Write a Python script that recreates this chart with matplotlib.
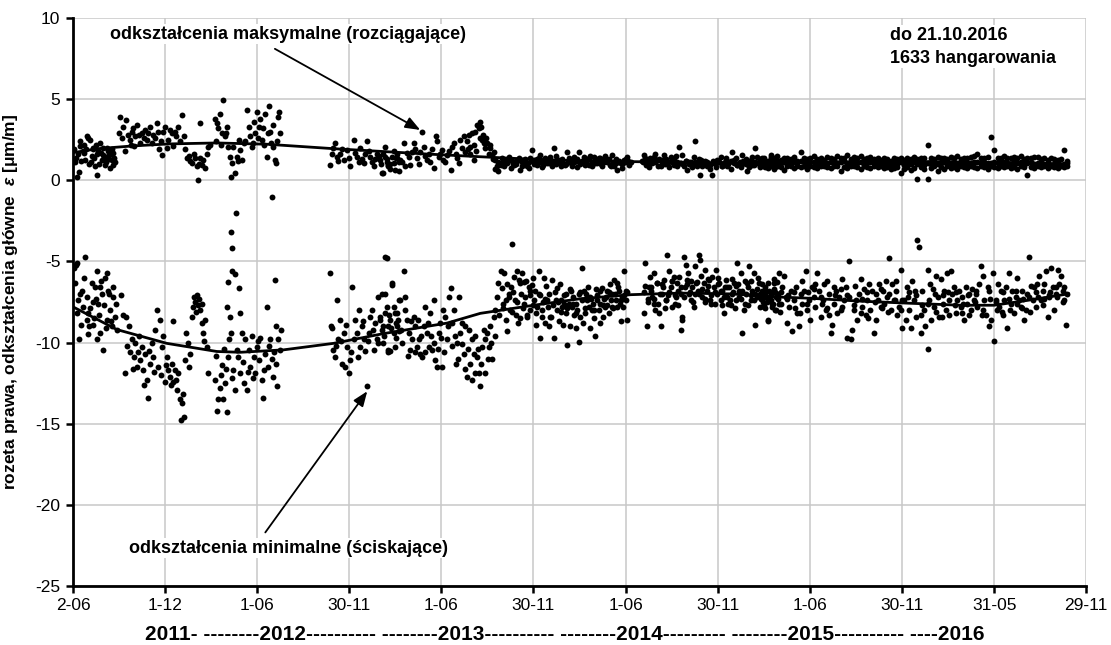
import numpy as np
import matplotlib
matplotlib.use('Agg')
import matplotlib.pyplot as plt

plt.rcParams['font.family'] = ['Liberation Sans', 'DejaVu Sans']
plt.rcParams['mathtext.fontset'] = 'custom'
plt.rcParams['mathtext.it'] = 'Liberation Sans:italic:bold'
plt.rcParams['mathtext.rm'] = 'Liberation Sans:bold'

# x axis = days counted from 2 June 2011
start_date = '2011-06-02'
tick_dates = ['2011-06-02', '2011-12-01', '2012-06-01', '2012-11-30', '2013-06-01', '2013-11-30',
              '2014-06-01', '2014-11-30', '2015-06-01', '2015-11-30', '2016-05-31', '2016-11-29']
tick_labels = ['2-06', '1-12', '1-06', '30-11', '1-06', '30-11',
               '1-06', '30-11', '1-06', '30-11', '31-05', '29-11']
y_ticks = [-25, -20, -15, -10, -5, 0, 5, 10]

# (day, strain) - maximal strain (tension)
max_2011_summer = [(2, 1.9), (4, 1.1), (6, 1.4), (7, 0.2), (9, 1.6), (11, 0.5), (13, 2.4), (14, 2.1), (16, 1.2),
                   (19, 1.8), (21, 1.7), (22, 2.2), (24, 1.25), (26, 1.9), (28, 2.7), (30, 2.6), (32, 1.0), (34, 2.5),
                   (36, 1.1), (37, 1.5), (39, 1.9), (40, 2.0), (42, 1.4), (44, 0.85), (46, 2.2), (47, 0.3), (48, 1.6),
                   (50, 1.8), (52, 1.0), (53, 2.3), (55, 1.7), (57, 1.25), (59, 2.0), (60, 1.55), (62, 1.4), (63, 0.95),
                   (65, 1.3), (66, 1.1), (67, 2.0), (69, 1.8), (70, 1.5), (72, 1.3), (73, 0.75), (75, 1.6), (77, 1.25),
                   (78, 1.9), (79, 1.7), (80, 0.95), (82, 1.4), (83, 1.15)]
max_2011_autumn = [(92, 2.9), (94, 3.9), (97, 2.6), (100, 3.3), (103, 1.8), (106, 3.7), (109, 2.8), (112, 2.5),
                   (114, 2.2), (116, 3.0), (118, 3.2), (120, 2.1), (123, 2.7), (126, 3.4), (130, 2.8), (133, 2.3),
                   (136, 2.9), (140, 2.6), (143, 3.1), (146, 2.5), (149, 2.9), (153, 3.3), (156, 2.3), (159, 2.8),
                   (163, 2.6), (166, 3.5), (169, 3.0), (171, 1.9), (174, 2.4), (176, 1.55), (179, 3.0), (182, 3.3),
                   (186, 2.0), (189, 2.5), (192, 3.1), (196, 2.9), (199, 2.1), (202, 3.0), (205, 2.7), (209, 3.3),
                   (212, 2.4), (215, 4.0), (219, 2.7)]
max_2012_winter = [(222, 1.9), (226, 1.4), (229, 1.5), (232, 1.2), (235, 1.05), (239, 1.65), (242, 1.4), (245, 0.85),
                   (247, 0.0), (250, 1.0), (252, 3.55), (252, 1.35), (255, 0.95), (258, 1.25), (262, 0.75),
                   (265, 1.65), (268, 2.05), (272, 2.2)]
max_2012_spring = [(281, 3.8), (283, 2.4), (285, 3.5), (288, 3.2), (291, 4.1), (293, 2.2), (295, 2.9), (298, 4.95),
                   (301, 2.7), (303, 2.9), (305, 3.3), (308, 2.05), (311, 1.45), (313, 0.2), (316, 1.05), (318, 2.05),
                   (321, 0.45), (324, 1.45), (326, 1.2), (328, 2.5), (331, 1.85), (334, 1.25), (338, 2.3), (341, 2.4),
                   (344, 4.3), (348, 3.3), (351, 2.7), (354, 2.05), (357, 2.3), (358, 3.6), (361, 2.9), (364, 4.2),
                   (367, 2.6), (368, 3.3), (371, 3.8), (374, 2.5), (377, 3.2), (379, 2.2), (381, 4.1), (384, 1.45),
                   (387, 2.9), (389, 4.55), (391, 3.0), (392, 2.3), (394, -1.0), (396, 3.4), (397, 2.05), (400, 1.25),
                   (402, 1.05), (404, 2.4), (407, 3.9), (409, 4.2), (410, 2.9)]
max_2012_autumn = [(510, 0.95), (513, 1.6), (516, 2.0), (519, 2.3), (523, 1.45), (526, 1.2), (529, 1.65), (533, 1.9),
                   (536, 1.25), (543, 1.85), (546, 1.4), (549, 0.85), (556, 2.5), (559, 1.7), (562, 1.45), (566, 1.1),
                   (569, 2.0), (572, 1.3), (576, 1.05), (579, 1.6), (582, 2.4), (586, 1.8), (589, 1.45), (592, 1.1),
                   (596, 0.85), (599, 1.3), (602, 1.65), (606, 1.5), (609, 1.25), (612, 0.45), (615, 0.45),
                   (619, 2.05), (622, 1.3), (625, 0.95), (629, 1.0), (632, 1.45), (635, 1.8), (638, 0.65), (642, 1.4),
                   (645, 1.15)]
max_2013 = [(610, 1.0), (615, 1.6), (619, 1.45), (622, 1.1), (625, 0.85), (629, 0.7), (635, 1.05), (639, 1.4),
            (642, 1.65), (645, 0.55), (648, 1.25), (652, 1.1), (655, 2.3), (658, 0.85), (662, 1.7), (665, 1.45),
            (668, 0.95), (672, 1.75), (675, 2.3), (678, 1.9), (682, 1.35), (685, 1.0), (688, 1.75), (691, 2.95),
            (695, 2.05), (698, 1.5), (701, 1.25), (705, 1.65), (708, 1.1), (711, 1.9), (715, 0.75), (719, 2.7),
            (721, 2.4), (725, 1.45), (728, 1.6), (731, 1.85), (734, 1.25), (738, 1.1), (741, 1.55), (744, 1.8),
            (748, 0.65), (751, 2.05), (754, 2.3), (758, 1.65), (761, 1.4), (764, 1.05), (767, 2.5), (771, 2.0),
            (774, 2.7), (777, 1.75), (781, 2.4), (782, 1.9), (784, 2.8), (786, 1.6), (787, 2.05), (791, 2.9),
            (794, 1.25), (795, 2.2), (797, 3.0), (799, 1.8), (801, 3.4), (804, 3.2), (806, 2.6), (807, 3.6),
            (808, 3.3), (810, 2.5), (812, 2.8), (814, 2.3), (817, 2.0), (819, 2.6), (820, 2.3), (824, 1.65),
            (826, 2.2), (827, 2.0), (830, 1.55), (832, 1.3), (834, 1.75), (837, 1.25), (837, 0.7), (840, 0.85),
            (843, 0.55), (847, 1.05), (850, 1.35), (853, 0.85), (857, 1.1), (860, 1.25), (863, 1.45), (867, 0.75),
            (870, 1.2), (873, 0.95), (877, 1.0), (880, 1.25), (883, 1.4), (886, 0.65), (890, 1.1), (893, 1.05),
            (896, 1.3), (900, 0.85), (903, 0.75), (906, 1.4), (910, 1.85), (913, 1.25), (916, 1.15), (919, 0.95),
            (923, 1.35), (926, 1.55), (929, 0.8), (933, 1.25), (936, 1.4), (939, 1.05), (943, 1.2), (946, 1.45),
            (949, 0.9), (953, 2.0), (956, 1.5), (959, 1.25), (962, 1.1), (966, 0.85), (969, 1.3), (976, 1.0),
            (979, 1.75), (982, 1.4), (986, 1.25), (989, 0.9), (992, 1.45), (996, 1.2), (999, 0.8), (1002, 1.75),
            (1005, 1.05), (1009, 1.2), (1012, 1.45), (1015, 0.95), (1019, 1.25), (1022, 1.35), (1025, 1.5),
            (1029, 0.9), (1032, 1.45), (1035, 1.2), (1038, 1.05), (1042, 1.4), (1045, 1.35), (1048, 0.9),
            (1052, 1.25), (1055, 1.5), (1058, 1.15), (1062, 1.3), (1065, 0.9), (1068, 1.55), (1072, 0.85),
            (1075, 1.3), (1078, 0.65), (1081, 1.2), (1085, 1.05), (1088, 0.75), (1091, 1.25), (1095, 1.3),
            (1098, 1.45), (1101, 0.95), (1105, 1.15), (1128, 1.2), (1131, 1.55), (1134, 1.35), (1138, 1.05),
            (1141, 0.8), (1144, 1.35), (1148, 1.1), (1151, 1.45), (1154, 1.6), (1157, 1.25), (1161, 1.3),
            (1164, 0.85), (1167, 1.0), (1171, 1.55), (1174, 1.3), (1177, 1.05), (1181, 0.8), (1184, 1.45),
            (1187, 1.1), (1190, 1.25), (1194, 1.5), (1197, 0.9), (1200, 2.05), (1204, 1.05), (1207, 1.55),
            (1210, 0.85), (1214, 1.2), (1217, 0.65), (1220, 1.0), (1224, 1.15), (1227, 0.8), (1230, 1.45),
            (1233, 2.4), (1237, 0.85), (1240, 1.3), (1243, 0.35), (1247, 0.9), (1250, 1.05), (1253, 1.2),
            (1257, 0.85), (1260, 1.0), (1263, 0.7), (1266, 0.35), (1270, 1.05), (1273, 0.8), (1276, 1.25),
            (1280, 1.1), (1283, 1.45), (1286, 0.9), (1290, 1.05), (1293, 1.35), (1296, 0.85), (1300, 1.1),
            (1303, 0.7), (1306, 1.75), (1310, 1.25), (1313, 1.4), (1316, 0.95), (1319, 1.0), (1323, 0.8),
            (1326, 1.55), (1329, 1.05), (1333, 1.3), (1336, 0.55), (1339, 0.8), (1343, 1.25), (1346, 1.45),
            (1349, 0.95), (1352, 2.0), (1356, 1.45), (1359, 1.1), (1362, 0.85), (1366, 1.4), (1369, 1.25),
            (1372, 0.8), (1376, 1.05), (1379, 1.2), (1382, 1.55), (1385, 0.95), (1389, 1.35), (1392, 1.3),
            (1395, 0.85), (1399, 1.0)]
max_2013_2014_mid = [(842, 1.15), (848, 0.95), (854, 1.2), (860, 1.05), (866, 1.3), (872, 1.0), (878, 1.1),
                     (884, 1.25), (890, 0.9), (896, 1.15), (902, 1.05), (908, 1.2), (914, 1.0), (920, 1.3),
                     (926, 1.1), (932, 0.95), (938, 1.2), (944, 1.05), (950, 1.15), (956, 1.0), (962, 1.25),
                     (968, 1.1), (974, 0.95), (980, 1.2), (986, 1.05), (992, 1.15), (998, 1.3), (1004, 1.0),
                     (1010, 1.1), (1016, 1.2), (1022, 0.95), (1028, 1.15), (1034, 1.05), (1040, 1.25), (1046, 1.0),
                     (1052, 1.1), (1058, 1.2), (1064, 0.95), (1070, 1.1), (1076, 1.05), (1082, 1.15), (1088, 1.0),
                     (1094, 1.1), (1100, 1.2), (1130, 1.1), (1136, 0.95), (1142, 1.2), (1148, 1.05), (1154, 1.15),
                     (1160, 0.9), (1166, 1.25), (1172, 1.0), (1178, 1.1), (1184, 1.2), (1190, 0.95), (1196, 1.15),
                     (1202, 1.05), (1208, 1.0), (1214, 1.2), (1220, 1.1), (1226, 0.9), (1232, 1.15), (1238, 1.05),
                     (1244, 1.25), (1250, 1.0), (1256, 1.1), (1262, 0.95), (1268, 1.2), (1274, 1.05), (1280, 1.1),
                     (1286, 0.9), (1292, 1.15), (1298, 1.0), (1304, 1.2), (1310, 1.05), (1316, 0.95), (1322, 1.1),
                     (1328, 1.2), (1334, 1.0), (1340, 1.15), (1346, 0.95), (1352, 1.1), (1358, 1.05), (1364, 1.2),
                     (1370, 1.0), (1376, 1.1), (1382, 0.95), (1388, 1.15), (1394, 1.05), (1400, 1.1)]

# 2014-2016 band: upper, middle and lower edge of the cloud at the same dates
band_day = [1362, 1369, 1376, 1382, 1389, 1395, 1402, 1409, 1415, 1422, 1428, 1435, 1442, 1448, 1455, 1461,
            1468, 1475, 1481, 1488, 1494, 1501, 1508, 1514, 1521, 1528, 1534, 1541, 1547, 1554, 1561, 1567,
            1574, 1580, 1587, 1594, 1600, 1607, 1613, 1620, 1627, 1633, 1640, 1646, 1653, 1660, 1666, 1673,
            1680, 1686, 1693, 1699, 1706, 1713, 1719, 1726, 1732, 1739, 1746, 1752, 1759, 1765, 1772, 1779,
            1785, 1792, 1799, 1805, 1812, 1818, 1825, 1832, 1838, 1845, 1851, 1858, 1865, 1871, 1878, 1884,
            1891, 1898, 1904, 1911, 1917, 1924, 1931, 1937, 1944, 1951, 1957, 1964, 1970]
max_band_hi = [1.3, 1.4, 1.2, 1.45, 1.3, 1.5, 1.25, 1.35, 1.4, 1.3, 1.45, 1.2, 1.75, 1.35, 1.3, 1.4,
               1.5, 1.3, 1.35, 1.25, 1.45, 1.4, 1.3, 1.5, 1.35, 1.4, 1.55, 1.3, 1.45, 1.35, 1.5, 1.3,
               1.4, 1.45, 1.3, 1.35, 1.25, 1.4, 1.3, 1.2, 1.35, 1.3, 1.4, 1.25, 1.35, 1.3, 1.45, 1.3,
               1.4, 1.35, 2.2, 1.4, 1.3, 1.45, 1.35, 1.4, 1.3, 1.45, 1.35, 1.5, 1.3, 1.4, 1.35, 1.45,
               1.5, 1.65, 1.4, 1.35, 1.45, 2.65, 1.85, 1.4, 1.35, 1.5, 1.4, 1.35, 1.45, 1.4, 1.5, 1.3,
               1.4, 1.35, 1.45, 1.45, 1.3, 1.4, 1.25, 1.35, 1.3, 1.25, 1.3, 1.85, 1.2]
max_band_mid = [1.1, 1.05, 1.15, 1.0, 1.1, 1.2, 1.05, 1.1, 1.0, 1.15, 1.1, 1.05, 1.2, 1.1, 1.0, 1.15,
                1.1, 1.05, 1.2, 1.1, 1.0, 1.1, 1.15, 1.05, 1.1, 1.2, 1.0, 1.1, 1.15, 1.05, 1.1, 1.0,
                1.15, 1.1, 1.05, 1.1, 1.0, 1.05, 1.1, 0.95, 1.05, 1.0, 1.1, 0.95, 1.05, 1.0, 1.1, 1.0,
                1.05, 0.95, 1.05, 1.0, 1.1, 1.0, 1.05, 1.1, 1.0, 1.05, 1.1, 1.0, 1.05, 1.1, 1.0, 1.05,
                1.1, 1.15, 1.05, 1.1, 1.0, 1.05, 1.1, 1.05, 1.0, 1.1, 1.05, 1.0, 1.1, 1.05, 1.1, 1.0,
                1.05, 1.1, 1.0, 1.05, 1.1, 1.0, 1.05, 0.95, 1.0, 1.05, 0.95, 1.0, 1.05]
max_band_lo = [0.8, 0.9, 0.75, 0.85, 0.7, 0.9, 0.8, 0.65, 0.85, 0.9, 0.75, 0.85, 0.8, 0.9, 0.7, 0.85,
               0.8, 0.75, 0.9, 0.85, 0.8, 0.75, 0.9, 0.85, 0.55, 0.8, 0.75, 0.85, 0.9, 0.8, 0.7, 0.85,
               0.8, 0.75, 0.9, 0.8, 0.85, 0.75, 0.8, 0.7, 0.75, 0.8, 0.45, 0.7, 0.8, 0.65, 0.75, 0.1,
               0.8, 0.7, 0.1, 0.75, 0.85, 0.6, 0.8, 0.7, 0.85, 0.75, 0.8, 0.7, 0.85, 0.8, 0.75, 0.9,
               0.8, 0.75, 0.85, 0.8, 0.7, 0.85, 0.8, 0.75, 0.9, 0.8, 0.85, 0.75, 0.8, 0.7, 0.85, 0.8,
               0.35, 0.8, 0.75, 0.85, 0.8, 0.9, 0.75, 0.85, 0.8, 0.75, 0.85, 0.8, 0.9]

# minimal strain (compression)
min_2011_summer = [(2, -5.4), (4, -6.3), (6, -5.2), (8, -5.1), (8, -8.2), (10, -7.4), (12, -9.8), (14, -7.0),
                   (16, -8.9), (17, -6.8), (20, -7.8), (22, -6.0), (24, -4.7), (27, -7.2), (27, -8.6), (29, -9.5),
                   (30, -8.2), (32, -9.0), (34, -7.9), (37, -6.35), (39, -8.9), (40, -7.5), (42, -8.5), (44, -6.55),
                   (45, -7.3), (47, -9.8), (47, -5.6), (50, -7.6), (51, -8.3), (53, -9.4), (53, -6.55), (55, -6.2),
                   (57, -7.0), (60, -10.45), (62, -7.7), (63, -6.0), (65, -9.1), (67, -8.6), (67, -5.7), (70, -6.8),
                   (72, -7.0), (73, -8.0), (75, -8.7), (77, -9.0), (79, -6.6), (80, -7.2), (83, -8.4), (85, -7.6),
                   (87, -9.2)]
min_2011_autumn = [(96, -7.1), (100, -8.3), (103, -11.9), (105, -8.4), (107, -10.2), (110, -9.0), (113, -10.6),
                   (116, -9.8), (118, -11.6), (120, -10.9), (123, -10.0), (126, -11.5), (128, -10.6), (130, -9.6),
                   (133, -11.1), (136, -10.25), (139, -11.7), (141, -12.6), (143, -10.7), (146, -12.3), (149, -13.4),
                   (151, -10.5), (153, -11.3), (156, -10.0), (159, -10.9), (161, -11.8), (163, -9.2), (166, -8.0),
                   (169, -11.5), (172, -8.6), (174, -12.0), (176, -10.25), (179, -9.6), (182, -12.4), (184, -11.4),
                   (186, -10.9), (189, -11.7), (192, -12.1), (194, -12.6), (196, -11.3), (198, -8.7), (199, -12.4),
                   (202, -11.7), (205, -12.3), (207, -12.9), (209, -11.9), (212, -13.5), (214, -14.8), (215, -13.7),
                   (217, -13.2), (219, -14.6), (221, -11.1), (224, -9.4), (227, -10.0), (229, -11.5), (232, -10.7),
                   (235, -8.4), (237, -7.8), (239, -7.2), (242, -7.5), (244, -8.1), (245, -7.1), (248, -7.7),
                   (250, -7.3), (252, -8.0), (255, -8.8), (256, -7.6), (258, -9.4), (260, -9.9), (262, -8.6),
                   (265, -10.25), (268, -11.9)]
min_2012_spring = [(282, -12.3), (284, -10.8), (285, -14.2), (288, -13.5), (291, -12.8), (293, -12.0), (295, -11.4),
                   (298, -13.5), (300, -10.4), (301, -12.5), (303, -11.6), (305, -14.3), (305, -7.8), (308, -10.9),
                   (308, -6.25), (310, -9.8), (311, -8.4), (313, -9.4), (313, -3.2), (315, -12.2), (316, -5.6),
                   (316, -4.15), (318, -11.7), (320, -5.8), (321, -12.9), (323, -2.0), (324, -10.45), (326, -10.9),
                   (328, -6.65), (330, -8.2), (331, -11.9), (334, -9.4), (336, -11.2), (338, -12.5), (341, -9.8),
                   (344, -12.9), (346, -11.8), (348, -10.45), (351, -11.5), (354, -9.6), (356, -12.2), (358, -10.9),
                   (361, -11.9), (364, -10.25), (366, -9.9), (368, -11.1), (371, -9.7), (374, -12.3), (377, -13.4),
                   (379, -11.7), (381, -10.7), (384, -7.8), (387, -11.5), (389, -10.2), (391, -9.8), (394, -11.0),
                   (397, -12.1), (399, -10.6), (400, -6.15), (402, -9.0), (403, -11.3), (405, -12.7), (407, -9.8),
                   (410, -10.45), (412, -9.2)]
min_2012_autumn = [(510, -5.7), (511, -9.0), (513, -9.1), (516, -10.45), (519, -10.9), (521, -10.2), (523, -7.4),
                   (526, -9.8), (529, -8.6), (531, -9.9), (533, -11.3), (536, -9.4), (539, -11.5), (541, -8.9),
                   (543, -10.25), (546, -11.9), (549, -11.1), (551, -10.6), (553, -6.55), (556, -9.8), (559, -8.6),
                   (562, -9.4), (564, -10.9), (566, -8.0), (569, -10.25), (572, -9.0), (574, -8.7), (576, -9.8),
                   (579, -10.55), (582, -12.7), (584, -9.9), (586, -9.4), (589, -8.4), (592, -8.0), (594, -9.2),
                   (596, -10.45), (599, -8.8), (602, -9.8), (604, -10.0), (605, -7.2), (609, -8.4), (612, -7.0),
                   (615, -9.0), (617, -9.6), (619, -4.7), (622, -7.8), (625, -10.45), (627, -8.3), (629, -8.6),
                   (632, -6.35), (635, -9.4), (638, -8.2), (640, -9.7), (642, -9.0), (645, -7.4)]
min_2013 = [(609, -8.6), (612, -9.2), (615, -10.05), (618, -8.2), (619, -7.0), (622, -4.8), (624, -10.6), (625, -9.0),
            (629, -10.55), (631, -9.1), (632, -6.45), (635, -7.8), (637, -10.3), (639, -8.8), (642, -8.2),
            (644, -8.6), (645, -9.3), (648, -7.4), (650, -9.2), (652, -10.05), (655, -5.6), (657, -8.0), (658, -7.2),
            (662, -8.6), (664, -10.8), (665, -9.4), (668, -10.45), (670, -8.7), (672, -9.8), (675, -8.4),
            (677, -10.6), (678, -9.0), (682, -10.25), (684, -8.6), (685, -9.8), (688, -10.7), (690, -9.6),
            (691, -10.9), (695, -9.0), (697, -10.6), (698, -7.8), (701, -9.4), (703, -8.8), (705, -10.25),
            (708, -8.2), (710, -9.6), (711, -10.45), (715, -7.4), (716, -10.0), (718, -11.1), (721, -11.5),
            (723, -10.4), (725, -9.4), (728, -8.8), (730, -9.7), (731, -11.5), (734, -8.0), (736, -10.6), (738, -8.4),
            (741, -9.8), (743, -9.0), (744, -7.2), (748, -6.65), (750, -10.2), (751, -8.8), (754, -8.0), (757, -9.6),
            (758, -11.3), (761, -10.05), (763, -11.0), (764, -7.2), (767, -9.4), (770, -10.1), (771, -8.8),
            (774, -10.7), (776, -11.6), (777, -9.0), (781, -12.1), (783, -10.4), (784, -9.2), (787, -11.3),
            (790, -12.3), (791, -9.8), (794, -10.7), (796, -9.6), (797, -11.9), (801, -10.9), (803, -10.4),
            (804, -11.9), (807, -12.7), (809, -11.3), (810, -10.25), (814, -9.2), (816, -11.9), (817, -9.8),
            (820, -9.4), (822, -11.0), (824, -10.25), (827, -9.0), (829, -10.0), (830, -11.0), (834, -8.4),
            (836, -9.6), (837, -8.0), (840, -7.2), (843, -6.35), (845, -8.3), (847, -5.6), (850, -6.65), (852, -7.6),
            (853, -5.7), (857, -7.4), (859, -6.4), (860, -9.3), (863, -7.0), (866, -8.0), (867, -6.55), (870, -3.9),
            (872, -6.9), (873, -5.95), (877, -8.3), (879, -7.5), (880, -5.6), (883, -6.15), (885, -8.5), (886, -6.35),
            (890, -5.7), (892, -7.9), (893, -6.25), (896, -7.2), (898, -6.2), (900, -8.4), (903, -6.55), (905, -8.0),
            (906, -7.1), (910, -6.45), (912, -6.0), (913, -7.4), (916, -6.8), (918, -8.9), (919, -7.8), (923, -5.6),
            (925, -7.1), (926, -9.7), (929, -8.4), (931, -7.5), (933, -6.05), (936, -8.8), (938, -6.5), (939, -7.4),
            (943, -7.0), (944, -9.0), (946, -8.4), (949, -6.15), (951, -7.7), (953, -9.7), (956, -7.4), (958, -8.0),
            (959, -6.65), (962, -8.7), (964, -6.4), (966, -7.4), (969, -7.8), (971, -8.9), (972, -7.6), (976, -8.2),
            (977, -7.0), (979, -10.15), (982, -7.6), (984, -9.0), (986, -6.8), (989, -7.8), (991, -7.2), (992, -8.3),
            (996, -9.1), (997, -7.6), (999, -8.0), (1002, -9.95), (1004, -6.9), (1005, -8.4), (1009, -5.4),
            (1010, -8.8), (1012, -6.85), (1015, -8.2), (1017, -7.0), (1019, -7.4), (1022, -7.8), (1024, -9.1),
            (1025, -7.2), (1029, -8.0), (1030, -7.6), (1032, -8.5), (1035, -9.6), (1037, -6.7), (1038, -7.4),
            (1042, -8.0), (1044, -7.6), (1045, -8.8), (1048, -6.65), (1050, -8.4), (1052, -7.3), (1055, -7.8),
            (1057, -7.7), (1058, -6.85), (1062, -8.2), (1063, -6.4), (1065, -7.4), (1068, -7.0), (1070, -7.9),
            (1072, -6.15), (1075, -7.4), (1077, -7.8), (1078, -6.35), (1081, -6.8), (1083, -7.6), (1085, -8.7),
            (1088, -7.2), (1090, -7.8), (1091, -5.6), (1095, -6.8), (1096, -7.4), (1098, -8.6)]
min_2013_2014_mid = [(852, -7.9), (858, -8.6), (864, -7.2), (870, -8.1), (876, -7.4), (882, -8.8), (888, -7.0),
                     (894, -7.6), (900, -8.3), (906, -6.8), (912, -7.7), (918, -8.2), (924, -7.0), (930, -8.0),
                     (936, -7.3), (942, -7.8), (948, -8.4), (954, -6.9), (960, -7.5), (966, -8.1), (972, -7.1),
                     (978, -7.9), (984, -6.7), (990, -7.6), (996, -8.2), (1002, -7.0), (1008, -7.4), (1014, -7.9),
                     (1020, -6.6), (1026, -7.3), (1032, -8.0), (1038, -7.1), (1044, -6.8), (1050, -7.7), (1056, -7.2),
                     (1062, -6.9), (1068, -7.8), (1074, -7.0), (1080, -6.6), (1086, -7.4), (1092, -7.1), (1098, -6.9),
                     (1133, -6.5), (1139, -7.3), (1145, -6.8), (1151, -7.6), (1157, -6.3), (1163, -7.0), (1169, -6.6),
                     (1175, -7.4), (1181, -6.9), (1187, -6.2), (1193, -7.1), (1199, -7.7), (1205, -6.6), (1211, -7.2),
                     (1217, -6.4), (1223, -6.9), (1229, -7.5), (1235, -6.3), (1241, -7.0), (1247, -6.7), (1253, -7.3),
                     (1259, -6.5), (1265, -7.1), (1271, -7.6), (1277, -6.4), (1283, -6.8), (1289, -7.2), (1295, -6.6),
                     (1301, -7.4), (1307, -6.9), (1313, -6.5), (1319, -7.2), (1325, -6.8), (1331, -7.6), (1337, -6.6),
                     (1343, -7.1), (1349, -7.4), (1355, -6.7), (1361, -7.0), (1367, -7.5), (1373, -6.8), (1379, -7.2),
                     (1385, -7.6), (1391, -6.9), (1397, -7.3)]
min_2014 = [(1131, -8.2), (1132, -6.9), (1134, -5.1), (1138, -9.0), (1139, -7.5), (1141, -6.55), (1144, -5.95),
            (1146, -6.6), (1148, -7.2), (1151, -5.7), (1152, -7.3), (1154, -8.0), (1157, -6.35), (1159, -7.6),
            (1161, -8.2), (1164, -9.0), (1166, -6.4), (1167, -7.0), (1171, -6.15), (1172, -7.9), (1174, -7.4),
            (1177, -4.6), (1179, -7.1), (1181, -5.6), (1184, -6.55), (1186, -6.2), (1187, -7.8), (1191, -5.95),
            (1192, -7.6), (1194, -7.2), (1197, -6.35), (1199, -6.8), (1200, -5.95), (1204, -9.2), (1205, -7.0),
            (1206, -8.4), (1207, -8.6), (1210, -4.7), (1212, -6.6), (1214, -5.2), (1217, -6.15), (1219, -5.7),
            (1220, -7.0), (1224, -7.4), (1225, -6.2), (1227, -6.55), (1230, -7.8), (1232, -7.0), (1233, -5.3),
            (1237, -6.25), (1238, -6.8), (1240, -4.6), (1243, -4.9), (1245, -5.9), (1247, -7.2), (1250, -6.35),
            (1252, -7.5), (1253, -5.5), (1257, -6.8), (1258, -6.1), (1260, -6.15), (1263, -7.4), (1265, -7.6),
            (1266, -5.95), (1270, -6.55), (1272, -6.9), (1273, -5.5), (1276, -7.0), (1278, -6.0), (1280, -6.35),
            (1283, -7.4), (1285, -7.7), (1286, -6.8), (1290, -8.2), (1291, -6.6), (1293, -6.15), (1296, -7.2),
            (1298, -7.6), (1300, -6.55), (1303, -7.7), (1305, -6.1), (1306, -7.0), (1310, -6.35), (1311, -7.9),
            (1313, -7.4), (1316, -5.1), (1318, -6.4), (1319, -6.8), (1323, -5.7), (1324, -7.3), (1326, -9.4),
            (1329, -8.0), (1331, -6.2), (1333, -7.0), (1336, -6.35), (1338, -7.7), (1339, -5.3), (1343, -7.4),
            (1344, -6.2), (1346, -6.8), (1349, -5.7), (1351, -7.0), (1352, -8.9), (1356, -7.2), (1357, -6.0),
            (1359, -6.35), (1362, -7.8), (1364, -7.3), (1366, -6.8), (1369, -7.6), (1371, -7.9), (1372, -6.55),
            (1376, -8.7), (1377, -6.3), (1379, -7.4), (1382, -7.0), (1384, -6.9), (1385, -7.8), (1389, -6.35),
            (1390, -8.0), (1392, -7.2), (1395, -6.25), (1397, -7.0), (1399, -7.6)]
min_2015_2016 = [(1366, -6.4), (1369, -7.8), (1372, -7.2), (1376, -8.6), (1379, -6.8), (1382, -7.4), (1389, -6.1),
                 (1392, -8.0), (1395, -7.0), (1399, -5.7), (1402, -7.6), (1405, -6.6), (1409, -5.9), (1412, -7.2),
                 (1415, -8.8), (1419, -7.8), (1422, -6.8), (1425, -9.3), (1428, -7.4), (1432, -6.6), (1435, -8.2),
                 (1438, -9.0), (1442, -7.0), (1445, -7.6), (1448, -6.8), (1452, -5.6), (1455, -8.0), (1458, -7.4),
                 (1461, -8.6), (1465, -6.6), (1468, -7.2), (1471, -7.8), (1475, -5.7), (1478, -6.8), (1481, -8.4),
                 (1485, -7.4), (1488, -6.4), (1491, -8.0), (1494, -6.2), (1498, -7.0), (1501, -9.4), (1504, -8.9),
                 (1508, -7.6), (1511, -6.8), (1514, -8.2), (1518, -7.2), (1521, -6.7), (1524, -7.8), (1528, -7.4),
                 (1531, -6.6), (1534, -9.7), (1537, -5.0), (1541, -9.8), (1544, -9.2), (1547, -8.0), (1551, -7.4),
                 (1554, -8.6), (1557, -7.0), (1561, -6.1), (1564, -7.8), (1567, -6.7), (1571, -8.3), (1574, -7.4),
                 (1577, -6.4), (1580, -8.0), (1584, -6.8), (1587, -9.4), (1590, -8.6), (1594, -7.4), (1597, -6.4),
                 (1600, -7.8), (1604, -6.8), (1607, -7.6), (1610, -6.2), (1613, -7.2), (1617, -4.8), (1620, -8.0),
                 (1623, -6.4), (1627, -7.4), (1630, -6.8), (1633, -8.3), (1637, -7.8), (1640, -5.5), (1643, -9.1),
                 (1647, -7.4), (1650, -8.6), (1653, -6.6), (1656, -8.0), (1660, -9.1), (1663, -6.2), (1666, -7.4),
                 (1670, -8.4), (1673, -3.7), (1676, -4.1), (1680, -9.4), (1683, -6.8), (1686, -8.0), (1689, -9.0),
                 (1693, -5.5), (1694, -10.4), (1696, -7.4), (1699, -8.6), (1703, -6.7), (1706, -7.8), (1709, -5.9),
                 (1713, -7.2), (1716, -8.4), (1719, -6.1), (1723, -7.6), (1726, -6.8), (1729, -8.0), (1732, -5.7),
                 (1736, -7.4), (1739, -5.6), (1742, -7.0), (1746, -6.6), (1749, -8.2), (1752, -7.4), (1756, -6.8),
                 (1759, -7.8), (1762, -7.2), (1765, -8.6), (1769, -6.6), (1772, -7.6), (1775, -7.0), (1779, -8.0),
                 (1782, -6.7), (1785, -7.4), (1789, -7.0), (1792, -7.8), (1795, -6.4), (1799, -5.3), (1802, -5.9),
                 (1805, -7.4), (1808, -8.3), (1812, -6.6), (1815, -9.0), (1818, -8.6), (1822, -5.7), (1825, -9.9),
                 (1828, -7.4), (1832, -6.4), (1835, -7.8), (1838, -6.8), (1842, -8.3), (1845, -7.4), (1848, -6.6),
                 (1851, -9.1), (1855, -5.7), (1858, -7.6), (1861, -6.8), (1865, -8.2), (1868, -7.2), (1871, -6.0),
                 (1875, -7.4), (1878, -7.8), (1881, -6.8), (1884, -8.6), (1888, -8.0), (1891, -7.0), (1894, -4.7),
                 (1898, -6.5), (1901, -7.4), (1904, -6.6), (1908, -7.8), (1911, -7.2), (1914, -5.9), (1917, -7.4),
                 (1921, -6.8), (1924, -6.4), (1927, -5.6), (1931, -8.4), (1934, -7.2), (1937, -5.4), (1941, -6.6),
                 (1944, -8.0), (1947, -7.0), (1951, -5.5), (1954, -6.4), (1957, -5.9), (1961, -6.8), (1964, -6.6),
                 (1967, -8.9), (1969, -7.0)]
min_2015_2016_mid = [(1371, -7.0), (1374, -7.5), (1386, -7.6), (1388, -6.7), (1401, -8.1), (1403, -6.9),
                     (1414, -7.3), (1417, -7.1), (1428, -6.9), (1430, -7.9), (1441, -8.2), (1444, -6.2),
                     (1454, -7.6), (1457, -6.9), (1468, -6.7), (1470, -6.4), (1481, -7.2), (1483, -7.6),
                     (1494, -7.9), (1497, -8.3), (1508, -6.6), (1510, -7.1), (1521, -8.0), (1523, -6.1),
                     (1534, -7.1), (1537, -7.2), (1548, -7.7), (1550, -6.5), (1561, -8.2), (1563, -7.3),
                     (1574, -6.9), (1576, -8.5), (1588, -7.5), (1590, -7.0), (1601, -6.7), (1603, -7.9),
                     (1614, -8.1), (1616, -7.0), (1628, -7.4), (1630, -6.2), (1641, -8.0), (1643, -7.4),
                     (1654, -7.2), (1656, -6.9), (1668, -6.8), (1670, -7.1), (1681, -8.3), (1683, -7.7),
                     (1694, -7.6), (1697, -6.4), (1708, -7.0), (1710, -8.1), (1721, -8.4), (1723, -7.1),
                     (1734, -6.9), (1736, -8.3), (1748, -7.7), (1750, -6.9), (1761, -8.2), (1763, -7.6),
                     (1774, -7.1), (1776, -8.3), (1788, -7.5), (1790, -6.8), (1801, -8.3), (1803, -8.0),
                     (1814, -6.8), (1816, -7.3), (1828, -7.5), (1830, -8.0), (1841, -8.1), (1843, -6.9),
                     (1854, -7.3), (1856, -8.0), (1868, -6.8), (1870, -7.6), (1881, -7.9), (1883, -7.3),
                     (1894, -7.2), (1896, -8.1), (1908, -6.9), (1910, -6.4), (1921, -7.7), (1923, -7.3),
                     (1934, -7.1), (1936, -6.9), (1948, -6.6), (1950, -7.2), (1961, -7.5), (1963, -7.4)]

# trend lines
max_trend_day = [0, 50, 120, 190, 285, 385, 515, 610, 700, 807, 906, 1005, 1105, 1270, 1400, 1560, 1700, 1850, 1972]
max_trend_eps = [1.7, 1.95, 2.12, 2.24, 2.3, 2.22, 1.95, 1.78, 1.62, 1.45, 1.3, 1.2, 1.15, 1.08, 1.1, 1.15, 1.15, 1.1, 1.0]
min_trend_day = [0, 87, 186, 285, 331, 417, 516, 615, 741, 807, 913, 1005, 1105, 1204, 1303, 1402, 1461, 1561,
                 1660, 1759, 1825, 1891, 1972]
min_trend_eps = [-7.8, -9.2, -10.05, -10.55, -10.6, -10.45, -10.05, -9.45, -8.8, -8.2, -7.7, -7.3, -7.05, -6.95,
                 -7.0, -7.2, -7.27, -7.45, -7.58, -7.7, -7.7, -7.4, -7.0]

max_points = (max_2011_summer + max_2011_autumn + max_2012_winter + max_2012_spring + max_2012_autumn + max_2013
              + max_2013_2014_mid)
min_points = (min_2011_summer + min_2011_autumn + min_2012_spring + min_2012_autumn + min_2013 + min_2013_2014_mid
              + min_2014 + min_2015_2016 + min_2015_2016_mid)

tick_pos = (np.array(tick_dates, dtype='datetime64[D]') - np.datetime64(start_date)).astype(int)

fig = plt.figure(figsize=(11.11, 6.45), dpi=100)
ax = fig.add_axes([0.0657, 0.0915, 0.9118, 0.8806])

dot = dict(s=18, c='black', linewidths=0, zorder=3)
ax.scatter([p[0] for p in max_points], [p[1] for p in max_points], **dot)
for row in (max_band_hi, max_band_mid, max_band_lo):
    ax.scatter(band_day, row, **dot)
ax.scatter([p[0] for p in min_points], [p[1] for p in min_points], **dot)

ax.plot(max_trend_day, max_trend_eps, color='black', lw=2.0, zorder=4)
ax.plot(min_trend_day, min_trend_eps, color='black', lw=2.0, zorder=4)

ax.set_xlim(tick_pos[0], tick_pos[-1])
ax.set_ylim(-25, 10)
ax.set_xticks(tick_pos)
ax.set_xticklabels(tick_labels)
ax.set_yticks(y_ticks)
ax.set_yticklabels([str(v) for v in y_ticks])
ax.grid(True, color='#c8c8c8', lw=1.1, zorder=0)
ax.set_axisbelow(True)
for side in ('top', 'right'):
    ax.spines[side].set_visible(False)
for side in ('left', 'bottom'):
    ax.spines[side].set_linewidth(2.0)
ax.tick_params(axis='both', direction='out', length=5, width=1.8, labelsize=12.5, pad=4)

ax.set_ylabel(r'rozeta prawa, odkształcenia główne  $\varepsilon$ [μm/m]', fontsize=12.5, fontweight='bold')
ax.yaxis.set_label_coords(-0.052, 0.5)
fig.text(0.508, 0.016, '2011- --------2012---------- --------2013---------- --------2014--------- '
         '--------2015---------- ----2016', ha='center', va='center', fontsize=15, fontweight='bold')

box = dict(facecolor='white', edgecolor='none', pad=1)
ax.text(73, 9.0, 'odkształcenia maksymalne (rozciągające)', fontsize=13, fontweight='bold',
        ha='left', va='center', bbox=box, zorder=5)
ax.text(111, -22.66, 'odkształcenia minimalne (ściskające)', fontsize=13, fontweight='bold',
        ha='left', va='center', bbox=box, zorder=5)
ax.text(1619, 9.45, 'do 21.10.2016\n1633 hangarowania', fontsize=13, fontweight='bold',
        ha='left', va='top', linespacing=1.45, bbox=box, zorder=5)

arrow = dict(arrowstyle='-|>,head_length=0.9,head_width=0.35', color='black', lw=1.3, shrinkA=0, shrinkB=0)
ax.annotate('', xy=(688, 3.1), xytext=(400, 8.1), arrowprops=arrow, zorder=5)
ax.annotate('', xy=(583, -13.0), xytext=(381, -21.7), arrowprops=arrow, zorder=5)

fig.savefig('out.png', dpi=100)
